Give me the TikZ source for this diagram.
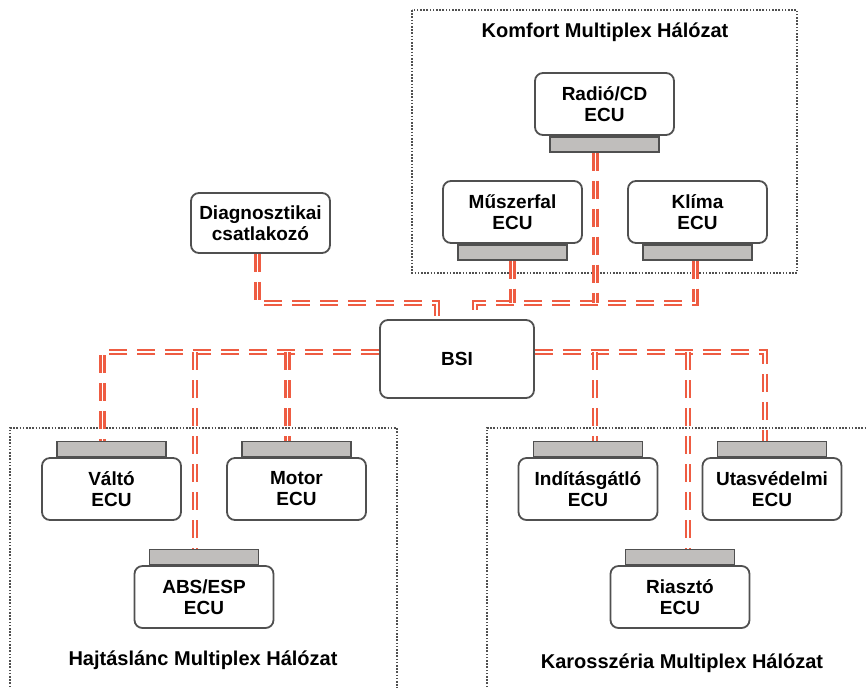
\documentclass[tikz,border=0pt]{standalone}
\usepackage{fontspec}
\setmainfont{Liberation Sans}
\usetikzlibrary{positioning}

\definecolor{busred}{RGB}{238,92,66}
\definecolor{bargray}{RGB}{192,190,188}
\definecolor{edgegray}{RGB}{80,80,80}

\begin{document}
\begin{tikzpicture}[x=0.5pt, y=-0.5pt,
  ecu/.style={draw=edgegray, line width=0.9pt, rounded corners=4pt, fill=white,
    minimum width=69.5pt, minimum height=31pt, align=center,
    font=\fontsize{9.5}{10.5}\selectfont\bfseries},
  bar/.style={draw=edgegray, line width=0.8pt, fill=bargray,
    minimum width=54.5pt, minimum height=7.5pt, inner sep=0pt},
  net/.style={draw=edgegray, line width=0.7pt, dash pattern=on 0.8pt off 0.8pt},
  nettitle/.style={font=\fontsize{10}{12}\selectfont\bfseries},
  bus/.style={draw=busred, line width=1.2pt, double=white, double distance=0.9pt,
    dash pattern=on 9pt off 5pt}]
  \useasboundingbox (0,0) rectangle (866,687);
  \clip (0,0) rectangle (866,687);

  % Network frames
  \draw[net] (412,10) rectangle (797,273);
  \draw[net] (10,700) |- (397,428) -- (397,700);
  \draw[net] (487,700) |- (880,428);
  \node[nettitle] (komfort) at (605,32) {Komfort Multiplex Hálózat};
  \node[nettitle] (hajtas) at (203,660) {Hajtáslánc Multiplex Hálózat};
  \node[nettitle] (karossz) at (682,663) {Karosszéria Multiplex Hálózat};

  % Comfort ECUs (bar below)
  \node[ecu] (radio) at (604.5,104) {Radió/CD\\ECU};
  \node[bar, below=0pt of radio] (radiobar) {};
  \node[ecu] (musz) at (512.5,212) {Műszerfal\\ECU};
  \node[bar, below=0pt of musz] (muszbar) {};
  \node[ecu] (klima) at (697.5,212) {Klíma\\ECU};
  \node[bar, below=0pt of klima] (klimabar) {};

  % Diagnostic plug and BSI
  \node[ecu, minimum height=30pt] (diag) at (260.5,223) {Diagnosztikai\\csatlakozó};
  \node[ecu, minimum width=77pt, minimum height=39pt] (bsi) at (457,359) {BSI};

  % Powertrain ECUs (bar above)
  \node[ecu] (valto) at (111.5,489) {Váltó\\ECU};
  \node[bar, above=0pt of valto] (valtobar) {};
  \node[ecu] (motor) at (296.5,489) {Motor\\ECU};
  \node[bar, above=0pt of motor] (motorbar) {};
  \node[ecu] (abs) at (204,597) {ABS/ESP\\ECU};
  \node[bar, above=0pt of abs] (absbar) {};

  % Body ECUs (bar above)
  \node[ecu] (indit) at (588,489) {Indításgátló\\ECU};
  \node[bar, above=0pt of indit] (inditbar) {};
  \node[ecu] (utas) at (772,489) {Utasvédelmi\\ECU};
  \node[bar, above=0pt of utas] (utasbar) {};
  \node[ecu] (riaszto) at (680,597) {Riasztó\\ECU};
  \node[bar, above=0pt of riaszto] (riasztobar) {};

  % Bus levels
  \coordinate (upbus) at (0,303);
  \coordinate (lowbus) at (0,352);

  % Upper buses
  \draw[bus] ([xshift=-1.5pt]diag.south) |- ([xshift=-10pt]bsi.north |- upbus)
    -- ([xshift=-10pt]bsi.north);
  \draw[bus] ([xshift=-1pt]klimabar.south) |- ([xshift=9pt]bsi.north |- upbus)
    -- ([xshift=9pt]bsi.north);
  \draw[bus] ([xshift=-4.5pt]radiobar.south) -- ([xshift=-4.5pt]radiobar.south |- upbus);
  \draw[bus] (muszbar.south) -- (muszbar.south |- upbus);

  % Lower left bus
  \draw[bus] (bsi.west |- lowbus) -| ([xshift=-4.5pt]valtobar.north);
  \draw[bus] ([xshift=-4.5pt]absbar.north |- lowbus) -- ([xshift=-4.5pt]absbar.north);
  \draw[bus] ([xshift=-4.5pt]motorbar.north |- lowbus) -- ([xshift=-4.5pt]motorbar.north);

  % Lower right bus
  \draw[bus] (bsi.east |- lowbus) -| ([xshift=-3.5pt]utasbar.north);
  \draw[bus] ([xshift=3.5pt]inditbar.north |- lowbus) -- ([xshift=3.5pt]inditbar.north);
  \draw[bus] ([xshift=4pt]riasztobar.north |- lowbus) -- ([xshift=4pt]riasztobar.north);
\end{tikzpicture}
\end{document}
